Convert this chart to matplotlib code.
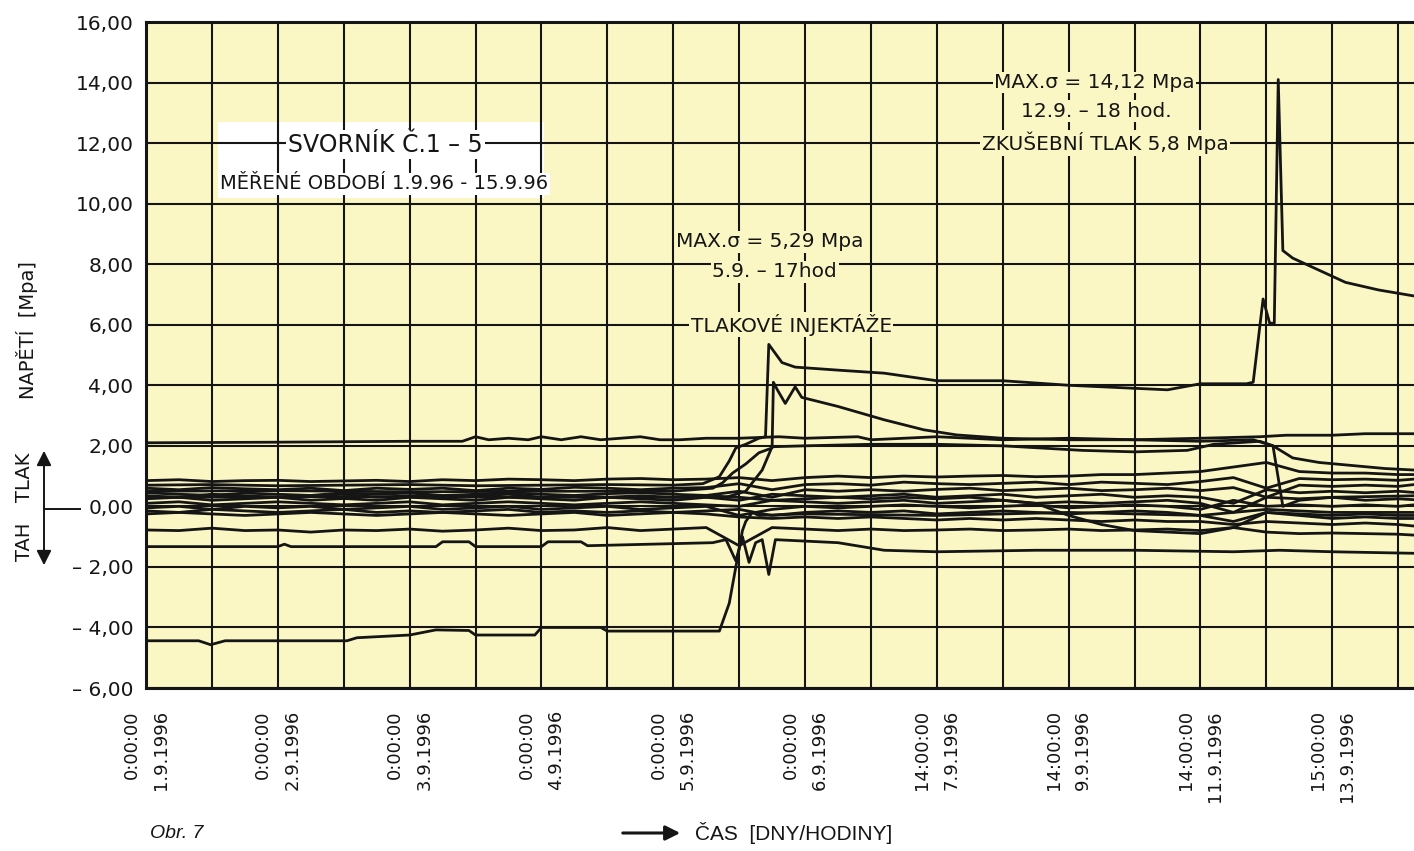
import matplotlib
matplotlib.use("Agg")
import matplotlib.pyplot as plt
from matplotlib.patches import FancyArrowPatch, Rectangle
from matplotlib.lines import Line2D

plt.rcParams['font.family'] = ['DejaVu Sans']

BG = '#fbf7c4'
INK = '#151515'

# x axis is in grid units (one vertical grid line per unit), labelled every 2
xt = [0, 2, 4, 6, 8, 10, 12, 14, 16, 18]
xt_labels = ['0:00:00\n1.9.1996', '0:00:00\n2.9.1996', '0:00:00\n3.9.1996',
             '0:00:00\n4.9.1996', '0:00:00\n5.9.1996', '0:00:00\n6.9.1996',
             '14:00:00\n7.9.1996', '14:00:00\n9.9.1996', '14:00:00\n11.9.1996',
             '15:00:00\n13.9.1996']
yt = [-6, -4, -2, 0, 2, 4, 6, 8, 10, 12, 14, 16]
yt_labels = ['– 6,00', '– 4,00', '– 2,00', '0,00', '2,00', '4,00', '6,00',
             '8,00', '10,00', '12,00', '14,00', '16,00']

# --- gauge readings (Mpa) ---
# injection gauge with both peaks (5,29 and 14,12)
xa = [0, 1, 2, 3, 4, 5, 6, 7, 8, 8.45, 8.7, 8.85, 8.95, 9.1, 9.3, 9.4, 9.45,
      9.65, 9.85, 10.5, 11.2, 12.0, 13.0, 14.0, 15.0, 15.5, 16.0,
      16.7, 16.8, 16.95, 17.05, 17.12, 17.18, 17.25, 17.4, 17.7, 18.2, 18.7, 19.24]
ya = [0.7, 0.72, 0.68, 0.7, 0.72, 0.68, 0.7, 0.72, 0.7, 0.75, 0.98, 1.5, 1.93, 2.05, 2.25, 2.3, 5.35,
      4.75, 4.6, 4.5, 4.4, 4.15, 4.15, 4.0, 3.9, 3.85, 4.05,
      4.05, 4.1, 6.85, 6.05, 6.05, 14.1, 8.45, 8.2, 7.9, 7.4, 7.15, 6.95]

# second injection gauge (M-shaped peak, then slow decay)
xB = [0, 2, 4, 6, 8, 8.6, 8.75, 8.9, 9.1, 9.3, 9.5,
      9.52, 9.58, 9.7, 9.85, 9.95,
      10.5, 11.2, 11.8, 12.3, 13.0, 14.0, 15.0, 16.0,
      16.8, 17.1, 17.4, 17.8, 18.3, 18.8, 19.24]
yB = [0.5, 0.52, 0.48, 0.5, 0.5, 0.6, 0.78, 1.1, 1.4, 1.77, 1.93,
      4.1, 3.85, 3.4, 3.95, 3.6,
      3.3, 2.86, 2.53, 2.36, 2.25, 2.2, 2.2, 2.15,
      2.2, 2.0, 1.6, 1.45, 1.35, 1.25, 1.2]

# line at ~2,1
x1 = [0, 2, 4, 4.8, 5.0, 5.2, 5.5, 5.8, 6.0, 6.3,
      6.6, 6.9, 7.2, 7.5, 7.8, 8.1, 8.5, 9.0, 9.6, 10,
      10.8, 11, 11.5, 12, 13, 14, 15, 16, 16.9, 17.3,
      18, 18.5, 19.24]
y1 = [2.1, 2.12, 2.15, 2.15, 2.3, 2.2, 2.25, 2.2, 2.3, 2.2,
      2.3, 2.2, 2.25, 2.3, 2.2, 2.2, 2.25, 2.25, 2.3, 2.25,
      2.3, 2.2, 2.25, 2.3, 2.2, 2.25, 2.2, 2.25, 2.3, 2.35,
      2.35, 2.4, 2.4]

# line lifted to ~2,0 by the first injection
xc = [0, 3, 6, 8.8, 9.1, 9.35, 9.5, 10, 11, 12, 13, 14.2, 15, 15.8, 16.2, 16.9, 17.1, 17.25, 17.5, 18, 19.24]
yc = [0.3, 0.32, 0.3, 0.3, 0.5, 1.2, 1.97, 2.0, 2.05, 2.05, 2.0, 1.85, 1.8, 1.85, 2.05, 2.15, 2.0, 0.0, 0.2, 0.3, 0.35]

# bottom gauge at about -4,4
xd = [0, 0.8, 0.98, 1.2, 3.05, 3.2, 4.0, 4.4, 4.9, 5.0, 5.9, 6.0, 6.9, 7.0, 8.7,
      8.85, 8.95, 9.05, 9.1, 9.2, 9.3, 10, 12, 14, 16, 17, 18, 19.24]
yd = [-4.44, -4.44, -4.57, -4.44, -4.44, -4.34, -4.25, -4.08, -4.1, -4.25, -4.25, -4.0, -4.0, -4.12, -4.12,
      -3.2, -2.0, -0.8, -0.5, -0.2, -0.3, -0.25, -0.3, -0.2, -0.3, -0.1, -0.2, -0.2]

# gauge at about -1,3
xe = [0, 2.0, 2.1, 2.2, 4.4, 4.5, 4.9, 5.0, 6.0, 6.1, 6.6, 6.7,
      8.6, 8.8, 8.95, 9.05, 9.15, 9.25, 9.35, 9.45, 9.55,
      10.5, 11.2, 12.0, 13.5, 15.0, 16.5, 17.2, 18.0, 19.24]
ye = [-1.33, -1.33, -1.25, -1.33, -1.33, -1.17, -1.17, -1.33, -1.33, -1.17, -1.17, -1.3,
      -1.2, -1.1, -1.8, -1.0, -1.85, -1.2, -1.1, -2.25, -1.1,
      -1.2, -1.45, -1.5, -1.45, -1.45, -1.5, -1.45, -1.5, -1.55]

# bundle of gauges around zero, common sample positions
xb = [0, 0.5, 1, 1.5, 2, 2.5, 3, 3.5, 4, 4.5,
      5, 5.5, 6, 6.5, 7, 7.5, 8, 8.5, 9, 9.5,
      10, 10.5, 11, 11.5, 12, 12.5, 13, 13.5, 14, 14.5,
      15, 15.5, 16, 16.5, 17, 17.5, 18, 18.5, 19, 19.24]
b1 = [0.85, 0.88, 0.82, 0.85, 0.86, 0.82, 0.84, 0.86, 0.82, 0.88,
      0.85, 0.9, 0.88, 0.85, 0.9, 0.92, 0.88, 0.9, 0.95, 0.85,
      0.95, 1.0, 0.95, 1.0, 0.97, 1.0, 1.02, 0.98, 1.0, 1.05,
      1.05, 1.1, 1.15, 1.3, 1.45, 1.15, 1.1, 1.1, 1.05, 1.05]
b2 = [0.6, 0.55, 0.62, 0.58, 0.55, 0.6, 0.52, 0.6, 0.56, 0.6,
      0.52, 0.6, 0.56, 0.63, 0.6, 0.55, 0.6, 0.62, 0.75, 0.55,
      0.72, 0.75, 0.7, 0.8, 0.75, 0.72, 0.76, 0.8, 0.72, 0.8,
      0.76, 0.72, 0.82, 0.95, 0.6, 0.92, 0.88, 0.9, 0.86, 0.9]
b3 = [0.45, 0.4, 0.36, 0.44, 0.4, 0.36, 0.45, 0.4, 0.44, 0.36,
      0.4, 0.45, 0.4, 0.36, 0.42, 0.45, 0.4, 0.36, 0.5, 0.3,
      0.55, 0.5, 0.55, 0.5, 0.56, 0.6, 0.52, 0.56, 0.6, 0.52,
      0.55, 0.6, 0.52, 0.62, 0.3, 0.7, 0.66, 0.7, 0.66, 0.72]
b4 = [0.25, 0.3, 0.2, 0.25, 0.3, 0.2, 0.26, 0.2, 0.3, 0.25,
      0.2, 0.3, 0.25, 0.2, 0.3, 0.25, 0.2, 0.3, 0.2, 0.4,
      0.35, 0.3, 0.35, 0.4, 0.3, 0.35, 0.4, 0.3, 0.35, 0.4,
      0.3, 0.35, 0.3, 0.1, 0.55, 0.45, 0.5, 0.45, 0.5, 0.46]
b5 = [0.1, 0.15, 0.05, 0.1, 0.15, 0.1, 0.05, 0.1, 0.15, 0.05,
      0.1, 0.15, 0.1, 0.05, 0.1, 0.15, 0.1, 0.05, 0.0, 0.2,
      0.15, 0.1, 0.15, 0.2, 0.1, 0.15, 0.2, 0.1, 0.15, 0.1,
      0.15, 0.2, 0.1, -0.2, 0.3, 0.25, 0.3, 0.2, 0.25, 0.22]
b6 = [-0.05, 0.0, -0.1, 0.0, -0.05, 0.0, -0.1, -0.05, 0.0, -0.1,
      -0.05, 0.0, -0.1, -0.05, 0.0, -0.1, -0.05, 0.0, -0.3, -0.1,
      0.0, -0.05, 0.0, 0.05, 0.0, -0.05, 0.0, 0.05, -0.05, 0.0,
      0.05, 0.0, -0.1, 0.2, 0.0, 0.05, 0.0, 0.05, 0.0, 0.05]
b7 = [-0.15, -0.2, -0.1, -0.15, -0.2, -0.15, -0.1, -0.2, -0.15, -0.2,
      -0.15, -0.1, -0.2, -0.15, -0.2, -0.15, -0.2, -0.15, -0.1, -0.3,
      -0.2, -0.15, -0.2, -0.15, -0.25, -0.2, -0.15, -0.2, -0.25, -0.2,
      -0.15, -0.2, -0.3, -0.5, -0.2, -0.25, -0.3, -0.25, -0.3, -0.3]
b8 = [-0.25, -0.2, -0.25, -0.3, -0.25, -0.2, -0.25, -0.3, -0.25, -0.2,
      -0.25, -0.3, -0.25, -0.2, -0.3, -0.25, -0.2, -0.25, -0.35, -0.4,
      -0.35, -0.4, -0.35, -0.4, -0.45, -0.4, -0.45, -0.4, -0.45, -0.5,
      -0.45, -0.5, -0.5, -0.6, -0.5, -0.55, -0.6, -0.55, -0.6, -0.65]
b9 = [0.35, 0.3, 0.4, 0.35, 0.3, 0.35, 0.4, 0.3, 0.35, 0.3,
      0.35, 0.4, 0.3, 0.35, 0.3, 0.35, 0.3, 0.35, 0.3, 0.2,
      0.25, 0.3, 0.25, 0.3, 0.25, 0.3, 0.2, 0.1, -0.3, -0.6,
      -0.8, -0.85, -0.9, -0.7, -0.2, -0.3, -0.4, -0.35, -0.4, -0.4]
bF = [-0.78, -0.8, -0.72, -0.8, -0.78, -0.85, -0.78, -0.8, -0.75, -0.82,
      -0.78, -0.72, -0.8, -0.78, -0.7, -0.8, -0.75, -0.7, -1.3, -0.7,
      -0.75, -0.8, -0.75, -0.8, -0.78, -0.75, -0.8, -0.78, -0.75, -0.8,
      -0.78, -0.75, -0.8, -0.7, -0.85, -0.9, -0.88, -0.9, -0.92, -0.95]
bundle = [b1, b2, b3, b4, b5, b6, b7, b8, b9, bF]

W, H = 1414, 851
fig = plt.figure(figsize=(W / 100, H / 100), dpi=100)
ax = fig.add_axes([146 / W, 1 - 688 / H, (W - 146) / W, (688 - 22) / H])
ax.set_facecolor(BG)
ax.set_xlim(0, 19.24)
ax.set_ylim(-6, 16)

ax.set_xticks(xt)
ax.set_xticks(range(20), minor=True)
ax.set_xticklabels(xt_labels, rotation=90, ha='center', va='top', fontsize=13,
                   multialignment='right', linespacing=1.8, color=INK)
ax.set_yticks(yt)
ax.set_yticklabels(yt_labels, fontsize=14.5, color=INK)
ax.tick_params(axis='both', which='both', length=0)
ax.tick_params(axis='x', pad=16)
ax.tick_params(axis='y', pad=9)
ax.grid(True, which='both', color=INK, lw=1.5)

for side in ['left', 'bottom', 'top']:
    ax.spines[side].set_linewidth(2.2)
    ax.spines[side].set_color(INK)
ax.spines['right'].set_visible(False)

# series
lw = 2.0
for yb in bundle:
    ax.plot(xb, yb, color=INK, lw=lw, zorder=2)
for xs, ys in [(xd, yd), (xe, ye), (xc, yc), (x1, y1), (xB, yB), (xa, ya)]:
    ax.plot(xs, ys, color=INK, lw=lw, zorder=2)

# title box
ax.add_patch(Rectangle((1.09, 10.2), 4.95, 2.5, facecolor='white', edgecolor='none', zorder=1))
ax.text(2.15, 11.95, 'SVORNÍK Č.1 – 5', fontsize=17, ha='left', va='center', color=INK,
        bbox=dict(facecolor='white', edgecolor='none', pad=1.5), zorder=3)
ax.text(1.13, 10.65, 'MĚŘENÉ OBDOBÍ 1.9.96 - 15.9.96', fontsize=14, ha='left', va='center', color=INK,
        bbox=dict(facecolor='white', edgecolor='none', pad=1), zorder=3)

# annotations
box = dict(facecolor=BG, edgecolor='none', pad=1)
ax.text(9.47, 8.74, 'MAX.σ = 5,29 Mpa', fontsize=14.5, ha='center', va='center', color=INK, bbox=box, zorder=3)
ax.text(9.54, 7.75, '5.9. – 17hod', fontsize=14.5, ha='center', va='center', color=INK, bbox=box, zorder=3)
ax.text(9.79, 6.0, 'TLAKOVÉ INJEKTÁŽE', fontsize=14.5, ha='center', va='center', color=INK, bbox=box, zorder=3)
ax.text(14.39, 14.0, 'MAX.σ = 14,12 Mpa', fontsize=14.5, ha='center', va='center', color=INK, bbox=box, zorder=3)
ax.text(14.42, 13.05, '12.9. – 18 hod.', fontsize=14.5, ha='center', va='center', color=INK, bbox=box, zorder=3)
ax.text(14.55, 12.0, 'ZKUŠEBNÍ TLAK 5,8 Mpa', fontsize=14.5, ha='center', va='center', color=INK, bbox=box, zorder=3)

# y axis captions and arrow
fig.text(27 / W, 1 - 330 / H, 'NAPĚTÍ  [Mpa]', rotation=90, ha='center', va='center', fontsize=14, color=INK)
fig.text(25 / W, 1 - 477 / H, 'TLAK', rotation=90, ha='center', va='center', fontsize=14, color=INK)
fig.text(25 / W, 1 - 542 / H, 'TAH', rotation=90, ha='center', va='center', fontsize=14, color=INK)
fig.patches.append(FancyArrowPatch((44 / W, 1 - 568 / H), (44 / W, 1 - 448 / H),
                                   transform=fig.transFigure, arrowstyle='<|-|>',
                                   mutation_scale=22, lw=1.4, color=INK))
fig.lines.append(Line2D([44 / W, 80 / W], [1 - 509 / H, 1 - 509 / H],
                        transform=fig.transFigure, color=INK, lw=1.4))

# bottom captions
fig.text(150 / W, 1 - 833 / H, 'Obr. 7', fontsize=14, style='italic', ha='left', va='center',
         color=INK, family='Liberation Sans')
fig.patches.append(FancyArrowPatch((620 / W, 1 - 833 / H), (683 / W, 1 - 833 / H),
                                   transform=fig.transFigure, arrowstyle='-|>',
                                   mutation_scale=22, lw=2.2, color=INK))
fig.text(695 / W, 1 - 833 / H, 'ČAS  [DNY/HODINY]', fontsize=15, ha='left', va='center',
         color=INK, family='Liberation Sans')

fig.savefig('out.png', dpi=100, facecolor='white')
